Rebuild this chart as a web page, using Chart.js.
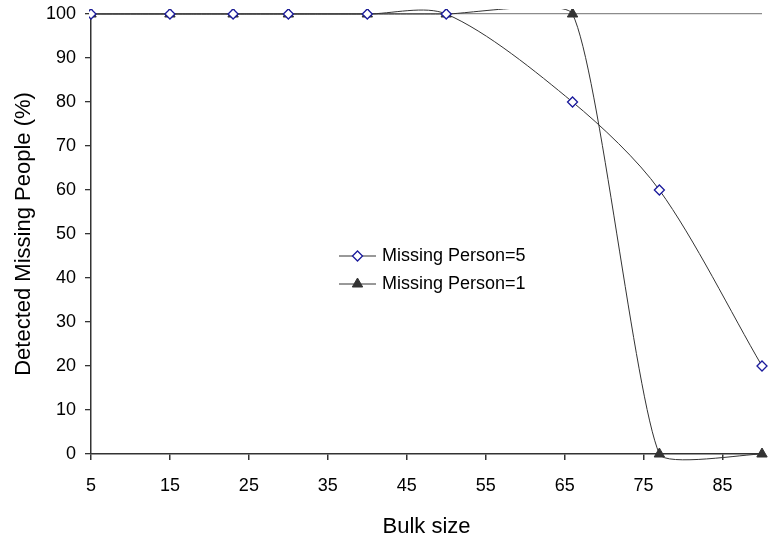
<!DOCTYPE html>
<html>
<head>
<meta charset="utf-8">
<script src="https://cdn.jsdelivr.net/npm/chart.js@4.4.1/dist/chart.umd.min.js"></script>
<style>
	html, body { margin: 0; padding: 0; background: #fff; }
	#wrap { width: 769px; height: 535px; }
</style>
</head>
<body>
<div id="wrap"><canvas id="grafico" width="769" height="535"></canvas></div>
<script>
// tamanhos de lote testados e percentual detectado
const bulkSize = [5, 15, 23, 30, 40, 50, 66, 77, 90];
const missing5 = [100, 100, 100, 100, 100, 100, 80, 60, 20];
const missing1 = [100, 100, 100, 100, 100, 100, 100, 0, 0];
const xTicks = [5, 15, 25, 35, 45, 55, 65, 75, 85];
const yTicks = [0, 10, 20, 30, 40, 50, 60, 70, 80, 90, 100];

const FONTE = '"Liberation Sans", Arial, sans-serif';

function montaPontos(xs, ys) {
	return xs.map((x, i) => ({ x: x, y: ys[i] }));
}

// legenda desenhada dentro da area do grafico
const legendaInterna = {
	id: 'legendaInterna',
	afterDraw(chart) {
		const ctx = chart.ctx;
		const x0 = 339, x1 = 376, xt = 382;
		const linhas = [256, 284];
		chart.data.datasets.forEach((ds, i) => {
			const y = linhas[i];
			ctx.save();
			ctx.strokeStyle = ds.borderColor;
			ctx.lineWidth = 1;
			ctx.beginPath();
			ctx.moveTo(x0, y);
			ctx.lineTo(x1, y);
			ctx.stroke();
			ctx.fillStyle = ds.pointBackgroundColor;
			ctx.strokeStyle = ds.pointBorderColor;
			ctx.lineWidth = ds.pointBorderWidth;
			Chart.helpers.drawPoint(ctx, {
				pointStyle: ds.pointStyle,
				radius: ds.pointRadius,
				borderWidth: ds.pointBorderWidth,
				rotation: 0
			}, (x0 + x1) / 2, y);
			ctx.fillStyle = '#000';
			ctx.font = '18px ' + FONTE;
			ctx.textBaseline = 'middle';
			ctx.textAlign = 'left';
			ctx.fillText(ds.label, xt, y);
			ctx.restore();
		});
	}
};

function montaChart() {
	const ctx = document.getElementById('grafico').getContext('2d');
	return new Chart(ctx, {
		type: 'line',
		data: {
			datasets: [
				{
					label: 'Missing Person=5',
					data: montaPontos(bulkSize, missing5),
					borderColor: '#333333',
					borderWidth: 1,
					pointStyle: 'rectRot',
					pointRadius: 5,
					pointBorderColor: '#1a1a9c',
					pointBackgroundColor: '#ffffff',
					pointBorderWidth: 1.3,
					tension: 0.3,
					clip: { left: 2, top: 5, right: 10, bottom: 7 }
				},
				{
					label: 'Missing Person=1',
					data: montaPontos(bulkSize, missing1),
					borderColor: '#333333',
					borderWidth: 1,
					pointStyle: 'triangle',
					pointRadius: 6,
					pointBorderColor: '#333333',
					pointBackgroundColor: '#333333',
					pointBorderWidth: 1,
					tension: 0.16,
					clip: { left: 2, top: 5, right: 10, bottom: 7 }
				}
			]
		},
		options: {
			responsive: false,
			animation: false,
			devicePixelRatio: 1,
			layout: { padding: { top: 14, right: 0, left: 0, bottom: 0 } },
			elements: { line: { capBezierPoints: false } },
			scales: {
				x: {
					type: 'linear',
					min: 5,
					max: 90,
					afterBuildTicks: (axis) => { axis.ticks = xTicks.map(v => ({ value: v })); },
					afterFit: (axis) => { axis.height = 81; axis.paddingLeft = 0; axis.paddingRight = 0; },
					border: { display: true, color: '#333333', width: 1.5 },
					grid: { drawOnChartArea: false, tickLength: 6, tickColor: '#333333', lineWidth: 1.5 },
					ticks: { color: '#000', font: { family: FONTE, size: 18 }, padding: 15, maxRotation: 0, autoSkip: false },
					title: { display: true, text: 'Bulk size', color: '#000', font: { family: FONTE, size: 22 }, padding: { top: 0, bottom: -5 } }
				},
				y: {
					min: 0,
					max: 100,
					afterBuildTicks: (axis) => { axis.ticks = yTicks.map(v => ({ value: v })); },
					afterFit: (axis) => { axis.width = 91; axis.paddingTop = 0; axis.paddingBottom = 0; },
					border: { display: true, color: '#333333', width: 1.5 },
					grid: {
						drawOnChartArea: true,
						tickLength: 6,
						tickColor: '#333333',
						lineWidth: 1.3,
						color: (c) => (c.tick && c.tick.value === 100 ? '#8c8c8c' : 'rgba(0,0,0,0)')
					},
					ticks: { color: '#000', font: { family: FONTE, size: 18 }, padding: 9, autoSkip: false },
					title: { display: true, text: 'Detected Missing People (%)', color: '#000', font: { family: FONTE, size: 22 }, padding: { top: 11, bottom: 0 } }
				}
			},
			plugins: {
				legend: { display: false },
				tooltip: { enabled: false }
			}
		},
		plugins: [legendaInterna]
	});
}

window.onload = () => {
	montaChart();
}
</script>
</body>
</html>
